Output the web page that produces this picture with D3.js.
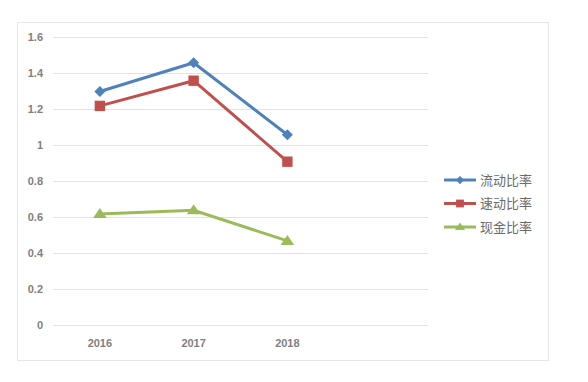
<!DOCTYPE html>
<html><head><meta charset="utf-8">
<script src="https://cdn.jsdelivr.net/npm/d3@7"></script>
<style>body{margin:0;background:#fff}svg{display:block}</style>
</head><body>
<svg id="c" width="588" height="382"></svg>
<script>
const categories = ["2016","2017","2018",""];
const seriesNames = ["流动比率","速动比率","现金比率"];
const current = [1.30, 1.46, 1.06];
const quick = [1.22, 1.36, 0.91];
const cash = [0.62, 0.64, 0.47];
const yTicks = [0,0.2,0.4,0.6,0.8,1,1.2,1.4,1.6];
const colors = ["#4F81BD","#C0504D","#9BBB59"];

function marker(k, s){
  // s: scale factor
  if(k===0){ const r=5.5*s; return `M0,${-r}L${r},0L0,${r}L${-r},0Z`; }
  if(k===1){ const r=5.2*s; return `M${-r},${-r}H${r}V${r}H${-r}Z`; }
  const w=6.8*s, h=10*s; return `M0,${-h*0.6}L${w},${h*0.4}L${-w},${h*0.4}Z`;
}

const svg = d3.select("#c");
svg.append("rect").attr("x",17.5).attr("y",22.5).attr("width",531).attr("height",338)
  .attr("fill","#fff").attr("stroke","#E6E6E6");

const x = d3.scaleBand().domain(categories).range([53,428]);
const y = d3.scaleLinear().domain([0,1.6]).range([325.5,37.5]);

const font = "'Noto Sans CJK SC','Liberation Sans',sans-serif";
const g = svg.append("g");
g.selectAll("line.grid").data(yTicks).join("line").attr("class","grid")
  .attr("x1",53).attr("x2",428).attr("y1",d=>y(d)).attr("y2",d=>y(d))
  .attr("stroke","#E3E3E3").attr("stroke-width",1);

g.selectAll("text.yl").data(yTicks).join("text").attr("class","yl")
  .attr("x",43).attr("y",d=>y(d)).attr("dy","0.35em").attr("text-anchor","end")
  .attr("font-family","'Liberation Sans',sans-serif").attr("font-size",11).attr("font-weight","bold")
  .attr("fill","#7F7F7F").text(d=>d);

g.selectAll("text.xl").data(categories.filter(c=>c)).join("text").attr("class","xl")
  .attr("x",d=>x(d)+x.bandwidth()/2).attr("y",343).attr("dy","0.35em").attr("text-anchor","middle")
  .attr("font-family","'Liberation Sans',sans-serif").attr("font-size",11).attr("font-weight","bold")
  .attr("fill","#7F7F7F").text(d=>d);

const data = [current, quick, cash];
const cx = i => x(categories[i]) + x.bandwidth()/2;
const line = d3.line().x((d,i)=>cx(i)).y(d=>y(d));
data.forEach((s,k)=>{
  g.append("path").attr("d",line(s)).attr("fill","none").attr("stroke",colors[k]).attr("stroke-width",3);
  g.selectAll(null).data(s).join("path")
    .attr("transform",(d,i)=>`translate(${cx(i)},${y(d)})`)
    .attr("d",marker(k,1)).attr("fill",colors[k]);
});

const leg = svg.append("g");
seriesNames.forEach((n,k)=>{
  const ly = 180 + k*23.5;
  leg.append("line").attr("x1",444).attr("x2",476).attr("y1",ly).attr("y2",ly).attr("stroke",colors[k]).attr("stroke-width",3);
  leg.append("path").attr("transform",`translate(460,${ly})`).attr("d",marker(k,0.75)).attr("fill",colors[k]);
  leg.append("text").attr("x",480).attr("y",ly).attr("dy","0.35em").attr("font-family",font)
    .attr("font-size",13).attr("fill","#6B6B6B").text(n);
});
</script>
</body></html>
